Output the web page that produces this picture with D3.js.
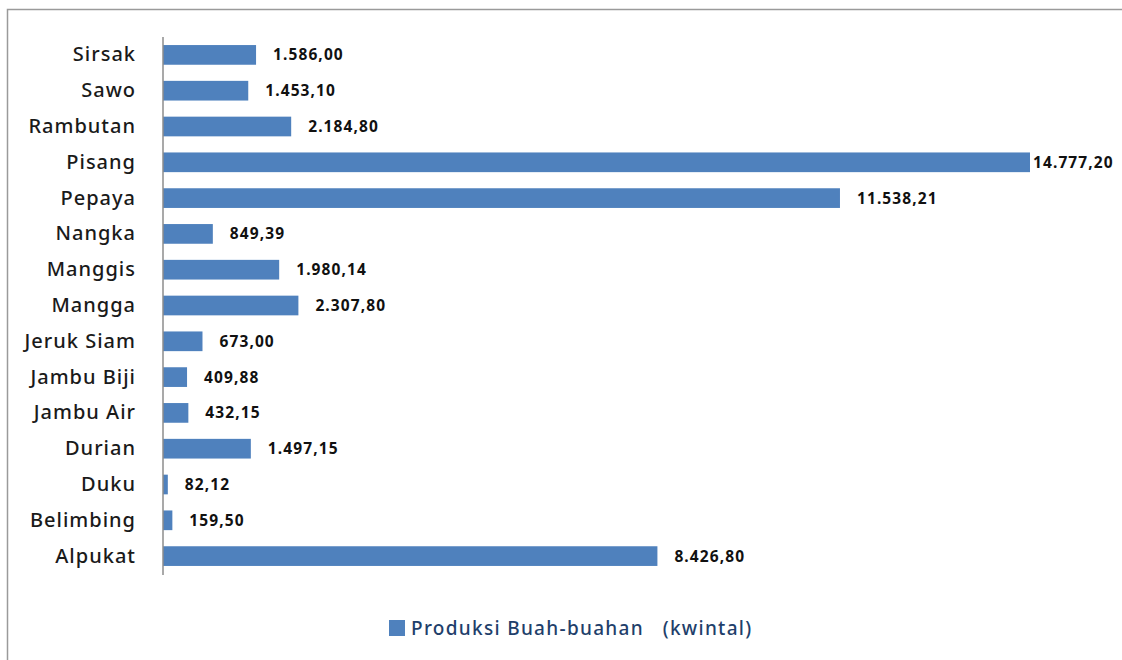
<!DOCTYPE html>
<html>
<head>
<meta charset="utf-8">
<script src="https://cdn.jsdelivr.net/npm/d3@7"></script>
<style>
  html, body { margin: 0; padding: 0; background: #fff; }
  svg { display: block; }
</style>
</head>
<body>
<svg id="chart" width="1122" height="660"></svg>
<script>
// Fruit production per commodity (kwintal), listed top to bottom
const categories = ["Sirsak", "Sawo", "Rambutan", "Pisang", "Pepaya", "Nangka", "Manggis", "Mangga",
  "Jeruk Siam", "Jambu Biji", "Jambu Air", "Durian", "Duku", "Belimbing", "Alpukat"];
const values = [1586.00, 1453.10, 2184.80, 14777.20, 11538.21, 849.39, 1980.14, 2307.80,
  673.00, 409.88, 432.15, 1497.15, 82.12, 159.50, 8426.80];
const valueLabels = ["1.586,00", "1.453,10", "2.184,80", "14.777,20", "11.538,21", "849,39", "1.980,14", "2.307,80",
  "673,00", "409,88", "432,15", "1.497,15", "82,12", "159,50", "8.426,80"];
const seriesName = "Produksi Buah-buahan   (kwintal)";

const W = 1122, H = 660;
const margin = { left: 163, top: 37, right: 92, bottom: 86 };
const barColor = "#4F81BD";
const font = "'Noto Sans', 'Open Sans', sans-serif";

const svg = d3.select("#chart");

// chart frame
svg.append("rect")
  .attr("x", 7.5).attr("y", 9.5)
  .attr("width", W + 20).attr("height", H + 20)
  .attr("fill", "#fff").attr("stroke", "#9a9a9a").attr("stroke-width", 1.5);

const x = d3.scaleLinear()
  .domain([0, d3.max(values)])
  .range([margin.left, 1030]);

const y = d3.scaleBand()
  .domain(categories)
  .range([margin.top, H - margin.bottom])
  .paddingInner(0.45)
  .paddingOuter(0.225);

// bars
svg.append("g").selectAll("rect")
  .data(categories)
  .join("rect")
  .attr("x", x(0))
  .attr("y", d => y(d))
  .attr("width", (d, i) => x(values[i]) - x(0))
  .attr("height", y.bandwidth())
  .attr("fill", barColor);

// category axis
const yAxis = svg.append("g")
  .attr("transform", `translate(${margin.left},0)`)
  .call(d3.axisLeft(y).tickSize(0).tickPadding(27));
yAxis.select(".domain").attr("stroke", "#8c8c8c").attr("stroke-width", 1.5)
  .attr("d", `M0,${margin.top}V${H - margin.bottom + 1}`);
yAxis.selectAll("text")
  .attr("font-family", font)
  .attr("font-size", 20)
  .attr("font-weight", 500)
  .attr("letter-spacing", 1.0)
  .attr("fill", "#1a1a1a");

// value labels
svg.append("g").selectAll("text")
  .data(categories)
  .join("text")
  .attr("x", (d, i) => Math.min(x(values[i]) + 17, x(values[3]) + 3))
  .attr("y", d => y(d) + y.bandwidth() / 2)
  .attr("dy", "0.35em")
  .attr("font-family", font)
  .attr("font-size", 15.5)
  .attr("font-weight", "bold")
  .attr("letter-spacing", 1.1)
  .attr("fill", "#111")
  .text((d, i) => valueLabels[i]);

// legend
const legend = svg.append("g").attr("transform", "translate(389,620)");
legend.append("rect")
  .attr("width", 16).attr("height", 16)
  .attr("fill", barColor);
legend.append("text")
  .attr("x", 22).attr("y", 8)
  .attr("dy", "0.35em")
  .attr("font-family", font)
  .attr("font-size", 19)
  .attr("font-weight", 500)
  .attr("letter-spacing", 1.3)
  .attr("fill", "#1F3F6B")
  .style("white-space", "pre")
  .text(seriesName);
</script>
</body>
</html>
